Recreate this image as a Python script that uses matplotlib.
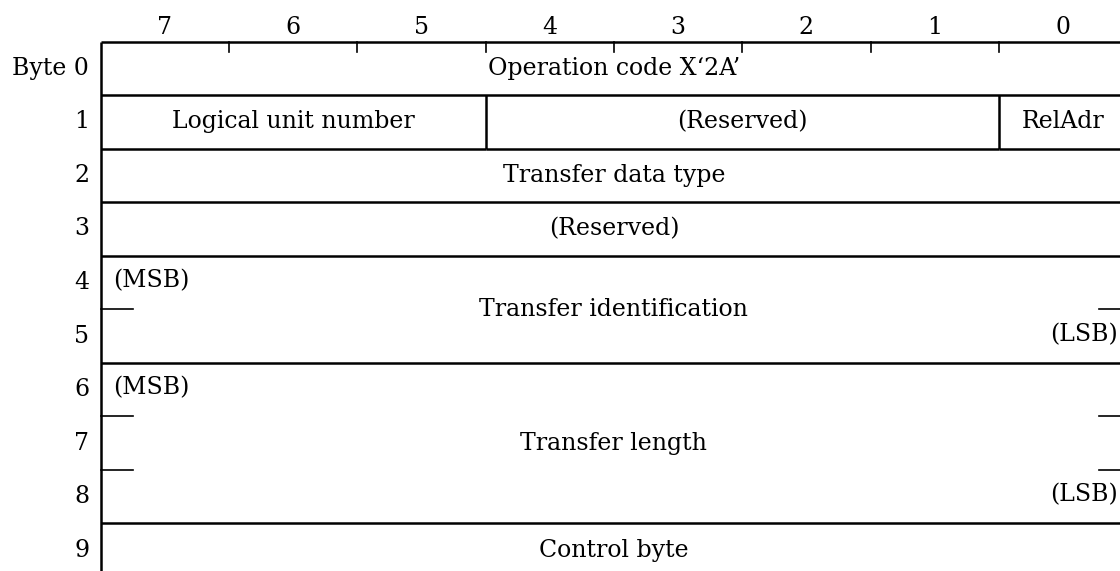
import matplotlib
matplotlib.use("Agg")
import matplotlib.pyplot as plt

# ---- data ----
bit_labels = ["7", "6", "5", "4", "3", "2", "1", "0"]
byte_labels = ["Byte 0", "1", "2", "3", "4", "5", "6", "7", "8", "9"]
# fields: (first byte, last byte, left col, right col, label)
field_first = [0, 1, 1, 1, 2, 3, 4, 6, 9]
field_last = [0, 1, 1, 1, 2, 3, 5, 8, 9]
field_col0 = [0, 0, 3, 7, 0, 0, 0, 0, 0]
field_col1 = [8, 3, 7, 8, 8, 8, 8, 8, 8]
field_names = ["Operation code X\u20182A\u2019", "Logical unit number", "(Reserved)", "RelAdr",
               "Transfer data type", "(Reserved)", "Transfer identification",
               "Transfer length", "Control byte"]
msb_rows = [4, 6]
lsb_rows = [5, 8]

# ---- layout (pixel mapping) ----
W, H = 1120, 571
left_px, col_px = 100.7, 128.3
top_px, row_px = 41.7, 53.51

fig = plt.figure(figsize=(W / 100, H / 100), dpi=100)
ax = fig.add_axes([0, 0, 1, 1])
ax.set_xlim(-left_px / col_px, (W - left_px) / col_px)
ax.set_ylim((H - top_px) / row_px, -top_px / row_px)
ax.axis("off")

font = dict(family=["DejaVu Serif"], fontsize=17, color="black")
lw_main, lw_thin = 1.8, 1.2
ncols = len(bit_labels)
nrows = len(byte_labels)

# bit header
for i, b in enumerate(bit_labels):
    ax.text(i + 0.5, -0.27, b, ha="center", va="center", **font)
# top line and ticks
ax.plot([0, ncols], [0, 0], color="black", lw=lw_main, solid_capstyle="butt")
for i in range(1, ncols + 1):
    ax.plot([i, i], [0, 0.2], color="black", lw=lw_thin)
# left border
ax.plot([0, 0], [0, nrows + 0.5], color="black", lw=lw_main, solid_capstyle="butt")
# byte labels
for r, lab in enumerate(byte_labels):
    ax.text(-0.09, r + 0.5, lab, ha="right", va="center", **font)

# fields
for f0, f1, c0, c1, name in zip(field_first, field_last, field_col0, field_col1, field_names):
    # bottom line
    ax.plot([c0, c1], [f1 + 1, f1 + 1], color="black", lw=lw_main, solid_capstyle="butt")
    # vertical dividers
    if c0 > 0:
        ax.plot([c0, c0], [f0, f1 + 1], color="black", lw=lw_main, solid_capstyle="butt")
    # internal partial lines for multi-byte fields
    for r in range(f0 + 1, f1 + 1):
        ax.plot([0, 0.25], [r, r], color="black", lw=lw_thin)
        ax.plot([ncols - 0.22, ncols], [r, r], color="black", lw=lw_thin)
    ax.text((c0 + c1) / 2, (f0 + f1 + 1) / 2, name, ha="center", va="center", **font)

for r in msb_rows:
    ax.text(0.1, r + 0.47, "(MSB)", ha="left", va="center", **font)
for r in lsb_rows:
    ax.text(ncols - 0.07, r + 0.47, "(LSB)", ha="right", va="center", **font)

fig.savefig("out.png", dpi=100)
